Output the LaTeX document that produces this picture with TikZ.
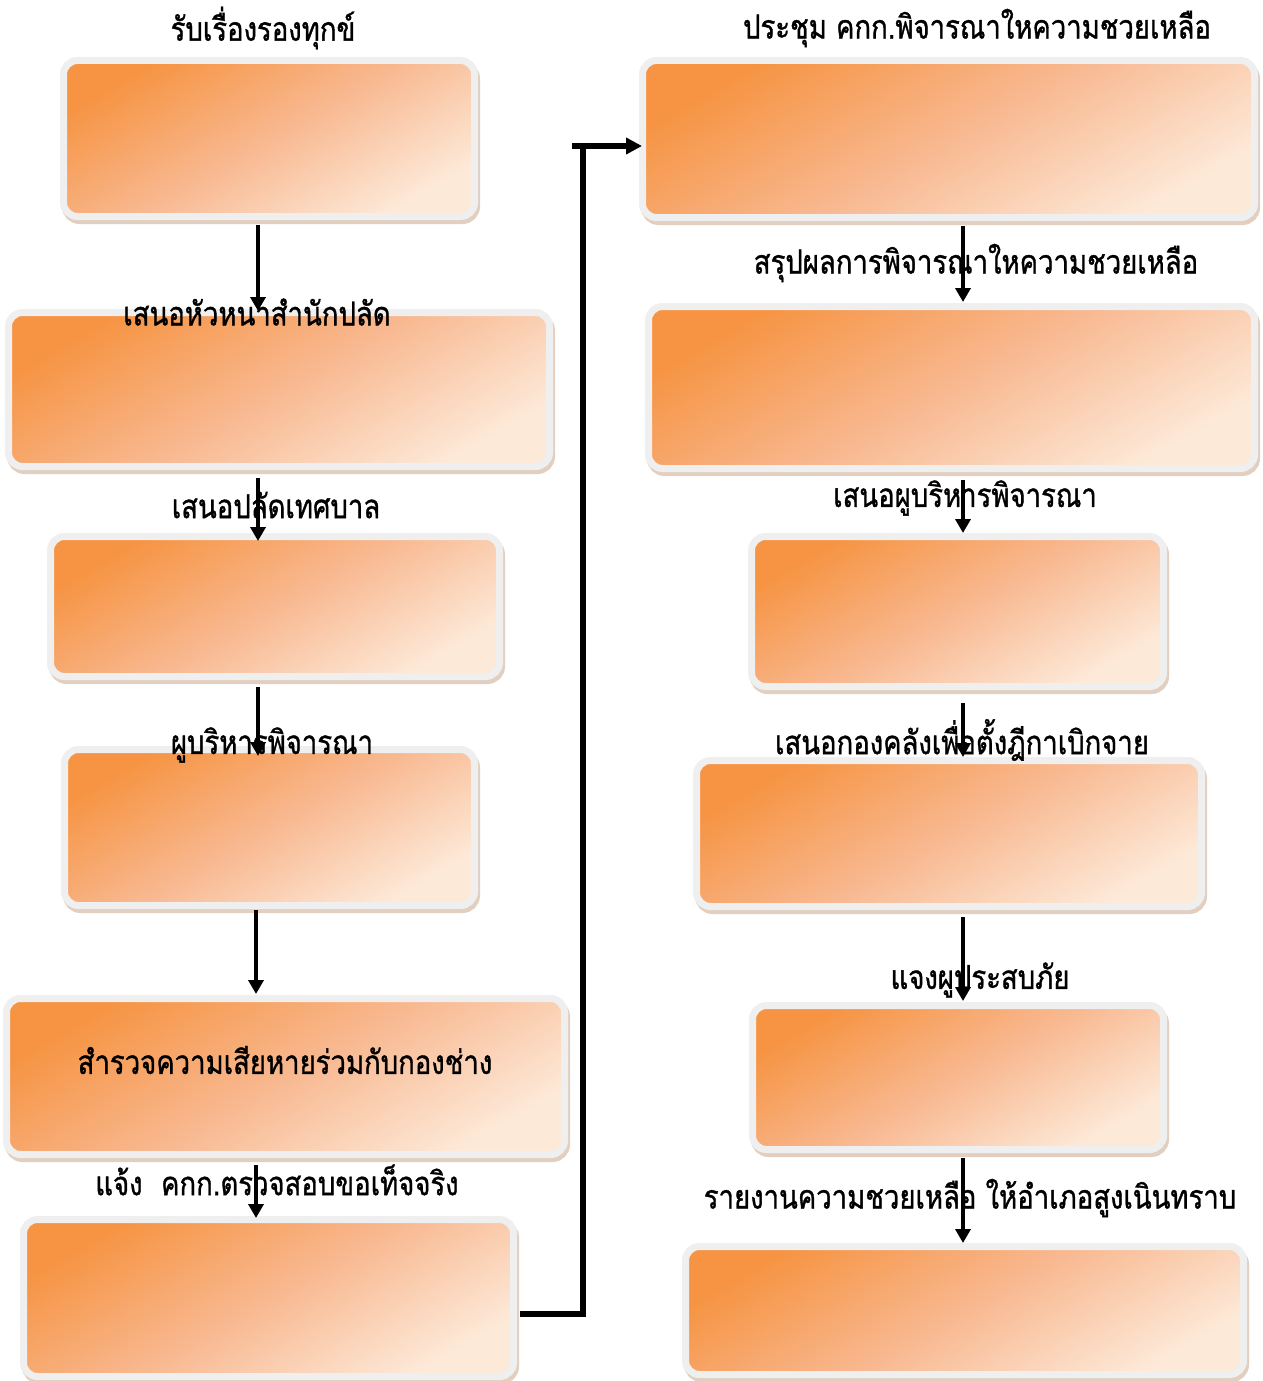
\documentclass[tikz,border=0pt]{standalone}
\usepackage{fontspec}
\usepackage{graphicx}
\newfontfamily\thaifont[Script=Thai,FakeBold=1.2]{Loma}
\usetikzlibrary{arrows.meta}
\definecolor{orA}{HTML}{F69443}
\definecolor{orB}{HTML}{F8B890}
\definecolor{orC}{HTML}{FDE9D8}
\definecolor{rimgray}{HTML}{EFEFEF}
\definecolor{shadowtan}{HTML}{E2CFC0}
\newcommand{\tstretch}[1]{\scalebox{1}[1.2]{#1}}
\tikzset{
  flowbox/.style={rectangle, rounded corners=14pt, inner sep=0pt,
    top color=orA, bottom color=orC, middle color=orB, shading angle=30,
    draw=rimgray, line width=7pt,
    preaction={draw=shadowtan, fill=shadowtan, line width=7pt,
      transform canvas={shift={(2pt,-4pt)}}}},
  lbl/.style={font=\thaifont\fontsize{27.5}{32}\selectfont, inner sep=0pt, text=black},
  arr/.style={line width=4.2pt, -{Triangle[length=14pt,width=15pt]}},
  elbow/.style={line width=5.5pt}
}
\begin{document}
\begin{tikzpicture}[x=1pt,y=-1pt]
\useasboundingbox[fill=white] (0,0) rectangle (1262,1381);
% left column
\node[flowbox, minimum width=411pt, minimum height=156pt] (L1) at (269,138.5) {};
\node[flowbox, minimum width=541pt, minimum height=154pt] (L2) at (279,389.5) {};
\node[flowbox, minimum width=449pt, minimum height=140pt] (L3) at (275,606.5) {};
\node[flowbox, minimum width=410pt, minimum height=156pt] (L4) at (269.5,827.5) {};
\node[flowbox, minimum width=558pt, minimum height=156pt] (L5) at (285.5,1076.5) {};
\node[flowbox, minimum width=490pt, minimum height=157pt] (L6) at (268.5,1298) {};
% right column
\node[flowbox, minimum width=612pt, minimum height=157pt] (R1) at (948.5,139) {};
\node[flowbox, minimum width=606pt, minimum height=162pt] (R2) at (951.5,387.5) {};
\node[flowbox, minimum width=412pt, minimum height=150pt] (R3) at (957.5,611.5) {};
\node[flowbox, minimum width=505pt, minimum height=146pt] (R4) at (949,833.5) {};
\node[flowbox, minimum width=411pt, minimum height=144pt] (R5) at (958,1077.5) {};
\node[flowbox, minimum width=558pt, minimum height=128pt] (R6) at (964.5,1310.5) {};

\coordinate (cl) at (258,0);
\coordinate (cl2) at (256,0);
\coordinate (cr) at (963,0);

% left arrows
\draw[arr] ([yshift=-5pt]L1.south -| cl) -- ([yshift=-2pt]L2.north -| cl);
\draw[arr] ([yshift=-8pt]L2.south -| cl) -- ([yshift=-8pt]L3.north -| cl);
\draw[arr] ([yshift=-7pt]L3.south -| cl) -- ([yshift=-10pt]L4.north -| cl);
\draw[arr] ([yshift=-1pt]L4.south -| cl2) -- ([yshift=1pt]L5.north -| cl2);
\draw[arr] ([yshift=-7pt]L5.south -| cl2) -- ([yshift=-2pt]L6.north -| cl2);
% right arrows
\draw[arr] ([yshift=-5pt]R1.south -| cr) -- ([yshift=1pt]R2.north -| cr);
\draw[arr] ([yshift=-8pt]R2.south -| cr) -- (R3.north -| cr);
\draw[arr] ([yshift=-13pt]R3.south -| cr) -- (R4.north -| cr);
\draw[arr] ([yshift=-7pt]R4.south -| cr) -- ([yshift=1pt]R5.north -| cr);
\draw[arr] ([yshift=-5pt]R5.south -| cr) -- (R6.north -| cr);

% elbow connector
\coordinate (ebot) at (583,1314);
\coordinate (etop) at (583,146);
\coordinate (estart) at (572,146);
\draw[elbow] ([xshift=3pt]L6.east |- ebot) -- (ebot) -- ([yshift=-2.75pt]etop);
\draw[elbow, -{Triangle[length=16pt,width=16pt]}] (estart) -- ([xshift=3pt]R1.west |- estart);

% labels
\node[lbl] (t1) at (263,28) {\tstretch{รับเรื่องรองทุกข์}};
\node[lbl] (t2) at (257,312) {\tstretch{เสนอหัวหนาสำนักปลัด}};
\node[lbl] (t3) at (276,505) {\tstretch{เสนอปลัดเทศบาล}};
\node[lbl] (t4) at (272,745) {\tstretch{ผูบริหารพิจารณา}};
\node[lbl] (t5) at (285,1060) {\tstretch{สำรวจความเสียหายร่วมกับกองช่าง}};
\node[lbl] (t6) at (277,1180) {\tstretch{แจ้ง\ \ คกก.ตรวจสอบขอเท็จจริง}};
\node[lbl] (t7) at (977,28) {\tstretch{ประชุม คกก.พิจารณาใหความชวยเหลือ}};
\node[lbl] (t8) at (976,263) {\tstretch{สรุปผลการพิจารณาใหความชวยเหลือ}};
\node[lbl] (t9) at (965,498) {\tstretch{เสนอผูบริหารพิจารณา}};
\node[lbl] (t10) at (962,740) {\tstretch{เสนอกองคลังเพื่อตั้งฎีกาเบิกจาย}};
\node[lbl] (t11) at (980,980) {\tstretch{แจงผูประสบภัย}};
\node[lbl] (t12) at (970,1198) {\tstretch{รายงานความชวยเหลือ ให้อำเภอสูงเนินทราบ}};
\end{tikzpicture}
\end{document}
